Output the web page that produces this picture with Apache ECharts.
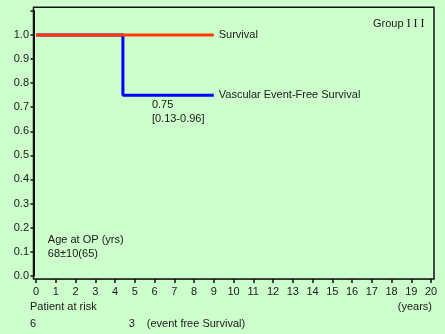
<!DOCTYPE html>
<html>
<head>
<meta charset="utf-8">
<script src="https://cdn.jsdelivr.net/npm/echarts@6/dist/echarts.min.js"></script>
<style>
  html, body { margin: 0; padding: 0; background: #ccffcc; }
  #chart { width: 445px; height: 334px; }
</style>
</head>
<body>
<div id="chart"></div>
<script>
// Kaplan-Meier curves, Group III
const survivalPoints = [[0, 1.0], [9, 1.0]];
const eventFreePoints = [[0, 1.0], [4.4, 0.75], [9, 0.75]];
const eventFreeDrop = [4.4, 0.75];
const eventFreeNote = ['0.75', '[0.13-0.96]'];
const yearTicks = [0, 20];
const riskYears = [0, 5];
const riskCounts = [6, 3];

const FONT = '"Liberation Sans", Arial, sans-serif';
const TXT = '#1a1a1a';

const chart = echarts.init(document.getElementById('chart'));

chart.setOption({
  backgroundColor: '#ccffcc',
  animation: false,
  textStyle: { fontFamily: FONT },
  grid: [
    { left: 36, right: 14, top: 10.9, bottom: 58.3 },
    { left: 33.5, right: 11, top: 7.3, bottom: 55, show: true,
      borderColor: '#111', borderWidth: 1.5, backgroundColor: 'transparent' }
  ],
  xAxis: [
    {
      type: 'value', gridIndex: 0, min: yearTicks[0], max: yearTicks[1], interval: 1,
      offset: 3.3,
      axisLine: { show: true, onZero: false, lineStyle: { color: '#333', width: 1 } },
      axisTick: { show: true, length: 4, lineStyle: { color: '#111', width: 1.5 } },
      axisLabel: { margin: 7, fontSize: 11, color: TXT, fontFamily: FONT },
      splitLine: { show: false }
    },
    { type: 'value', gridIndex: 1, show: false, min: 0, max: 1 }
  ],
  yAxis: [
    {
      type: 'value', gridIndex: 0, min: 0, max: 1.1, interval: 0.1,
      offset: 2.5,
      axisLine: { show: true, onZero: false, lineStyle: { color: '#111', width: 2 } },
      axisTick: { show: true, length: 3, lineStyle: { color: '#111', width: 1.5 } },
      axisLabel: {
        margin: 4.5, fontSize: 11, color: TXT, fontFamily: FONT,
        formatter: v => (v > 1.05 ? '' : v.toFixed(1))
      },
      splitLine: { show: false }
    },
    { type: 'value', gridIndex: 1, show: false, min: 0, max: 1 }
  ],
  series: [
    {
      name: 'Vascular Event-Free Survival',
      type: 'line', xAxisIndex: 0, yAxisIndex: 0,
      step: 'end', data: eventFreePoints,
      showSymbol: false, symbol: 'none',
      lineStyle: { color: '#0000ff', width: 3 },
      endLabel: {
        show: true, formatter: 'Vascular Event-Free Survival',
        distance: 5, fontSize: 11, color: TXT, fontFamily: FONT
      },
      z: 2
    },
    {
      name: 'Survival',
      type: 'line', xAxisIndex: 0, yAxisIndex: 0,
      data: survivalPoints,
      showSymbol: false, symbol: 'none',
      lineStyle: { color: '#ff3a00', width: 3 },
      endLabel: {
        show: true, formatter: 'Survival',
        distance: 5, fontSize: 11, color: TXT, fontFamily: FONT
      },
      z: 3
    }
  ]
});

// Annotations placed through the axis scales
const px = (x, y) => chart.convertToPixel({ gridIndex: 0 }, [x, y]);
const dropPx = px(eventFreeDrop[0], eventFreeDrop[1]);
const xAxisY = px(0, 0)[1] + 3.3;
const texts = [];
const txt = (x, y, s, align, extra) => texts.push(Object.assign({
  type: 'text', x, y,
  style: { text: s, fill: TXT, font: '11px ' + FONT, align: align || 'left', verticalAlign: 'middle' }
}, extra || {}));

txt(dropPx[0] + 29, dropPx[1] + 10, eventFreeNote[0]);
txt(dropPx[0] + 29, dropPx[1] + 24, eventFreeNote[1]);

// Group label
texts.push({
  type: 'text', x: 373, y: 24,
  style: {
    text: '{a|Group }{b|I I I}',
    verticalAlign: 'middle',
    rich: {
      a: { font: '11px ' + FONT, fill: TXT },
      b: { font: '12px "Liberation Serif", "DejaVu Serif", serif', fill: TXT }
    }
  }
});

// Patient characteristics
const agePx = px(0.6, 0.15);
txt(agePx[0], agePx[1], 'Age at OP (yrs)');
txt(agePx[0], agePx[1] + 14, '68\u00b110(65)');

// Patients at risk
txt(30, xAxisY + 28, 'Patient at risk');
txt(px(yearTicks[1], 0)[0] + 1, xAxisY + 28, '(years)', 'right');
riskYears.forEach((yr, i) => {
  const p = px(yr, 0);
  txt(p[0] - 6, xAxisY + 45, String(riskCounts[i]));
});
txt(px(riskYears[1], 0)[0] + 12, xAxisY + 45, '(event free Survival)');

chart.setOption({ graphic: texts });
</script>
</body>
</html>
